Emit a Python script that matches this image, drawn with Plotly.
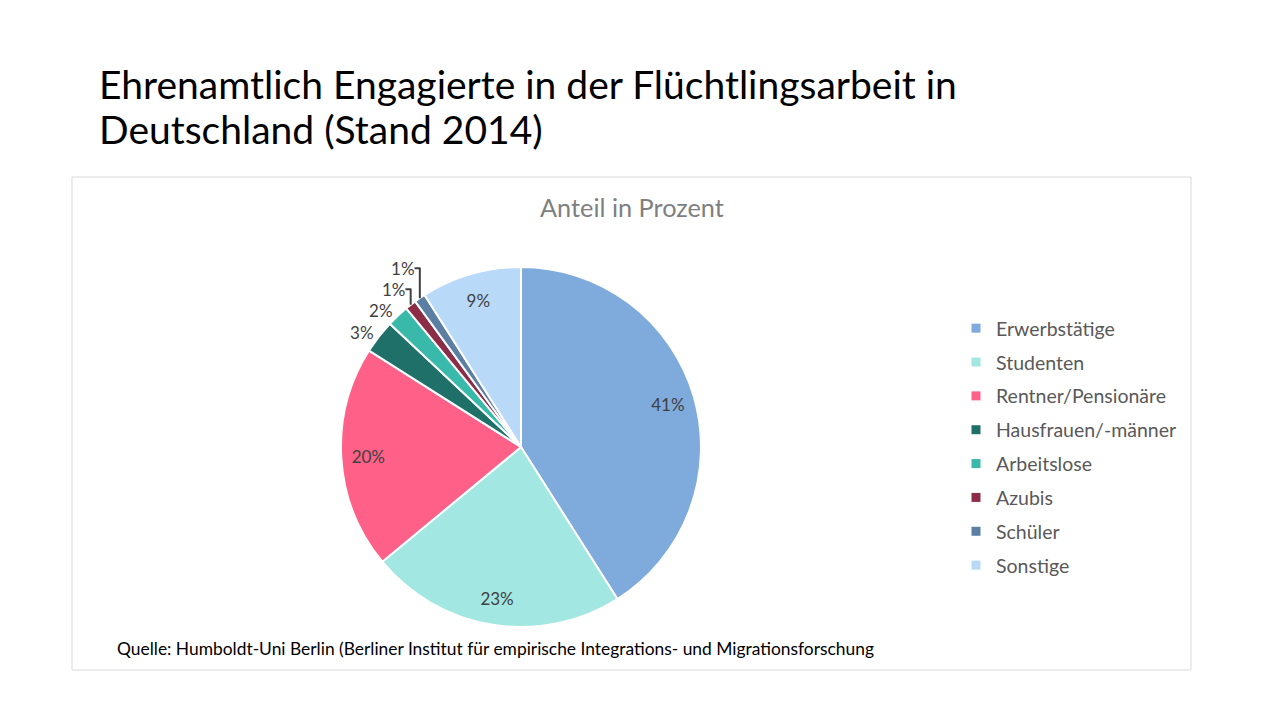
import plotly.graph_objects as go

categories = ["Erwerbstätige", "Studenten", "Rentner/Pensionäre", "Hausfrauen/-männer",
              "Arbeitslose", "Azubis", "Schüler", "Sonstige"]
values = [41, 23, 20, 3, 2, 1, 1, 9]
colors = ["#7EAADC", "#A2E7E1", "#FE6088", "#20706A", "#38B9AA", "#8C2D48", "#5B7FA2", "#B9D9F9"]
# label placement per slice: big slices labelled inside (near the rim), small ones outside
outside_pos = ["none", "none", "none", "outside", "outside", "outside", "outside", "none"]
inside_pos = ["inside", "inside", "inside", "none", "none", "none", "none", "inside"]

FONT = "Lato"
W, H = 1280, 720
dom = dict(x=[341 / W, 701 / W], y=[(H - 627) / H, (H - 267) / H])

fig = go.Figure()
fig.add_trace(go.Pie(
    labels=categories, values=values, sort=False, direction="clockwise", rotation=0,
    marker=dict(colors=colors, line=dict(color="white", width=2)),
    texttemplate="%{percent:.0%}", textposition=outside_pos,
    textfont=dict(family=FONT, size=17, color="#404040"),
    domain=dom, showlegend=False, hoverinfo="label+percent",
))
# transparent ring overlay used only to put the inside labels near the rim
fig.add_trace(go.Pie(
    labels=categories, values=values, sort=False, direction="clockwise", rotation=0,
    hole=0.7,
    marker=dict(colors=["rgba(0,0,0,0)"] * len(values), line=dict(width=0)),
    texttemplate="%{percent:.0%}", textposition=inside_pos,
    insidetextorientation="horizontal",
    textfont=dict(family=FONT, size=17, color="#404040"),
    domain=dom, showlegend=False, hoverinfo="skip",
))

for i, (c, col) in enumerate(zip(categories, colors)):
    fig.add_trace(go.Scatter(
        x=[None], y=[None], mode="markers", name=c, legendgroup=f"g{i}",
        marker=dict(symbol="square", size=9, color=col), showlegend=True,
    ))

fig.update_layout(
    width=W, height=H, margin=dict(l=0, r=0, t=0, b=0),
    paper_bgcolor="white", plot_bgcolor="white",
    xaxis=dict(visible=False), yaxis=dict(visible=False),
    legend=dict(x=956 / W, y=(H - 309) / H, xanchor="left", yanchor="top",
                font=dict(family=FONT, size=19.5, color="#595959"),
                tracegroupgap=5.5, itemwidth=30, bgcolor="rgba(0,0,0,0)"),
    shapes=[dict(type="rect", xref="paper", yref="paper",
                 x0=72 / W, x1=1191 / W, y0=(H - 670) / H, y1=(H - 177) / H,
                 line=dict(color="#D9D9D9", width=1))],
    annotations=[
        dict(text="Ehrenamtlich Engagierte in der Flüchtlingsarbeit in",
             x=97 / W, y=(H - 84) / H, xref="paper", yref="paper", xanchor="left", yanchor="middle",
             align="left", showarrow=False, font=dict(family=FONT, size=39, color="#000000")),
        dict(text="Deutschland (Stand 2014)",
             x=97 / W, y=(H - 129) / H, xref="paper", yref="paper", xanchor="left", yanchor="middle",
             align="left", showarrow=False, font=dict(family=FONT, size=39, color="#000000")),
        dict(text="Anteil in Prozent", x=632 / W, y=(H - 207) / H, xref="paper", yref="paper",
             xanchor="center", yanchor="middle", showarrow=False,
             font=dict(family=FONT, size=25.3, color="#7F7F7F")),
        dict(text="Quelle: Humboldt-Uni Berlin (Berliner Institut für empirische Integrations- und Migrationsforschung",
             x=115 / W, y=(H - 648) / H, xref="paper", yref="paper", xanchor="left", yanchor="middle",
             showarrow=False, font=dict(family=FONT, size=17.4, color="#000000")),
    ],
)

fig.write_html("out.html", config={"displayModeBar": False},
               post_script="document.body.style.margin='0';document.body.style.overflow='hidden';")
